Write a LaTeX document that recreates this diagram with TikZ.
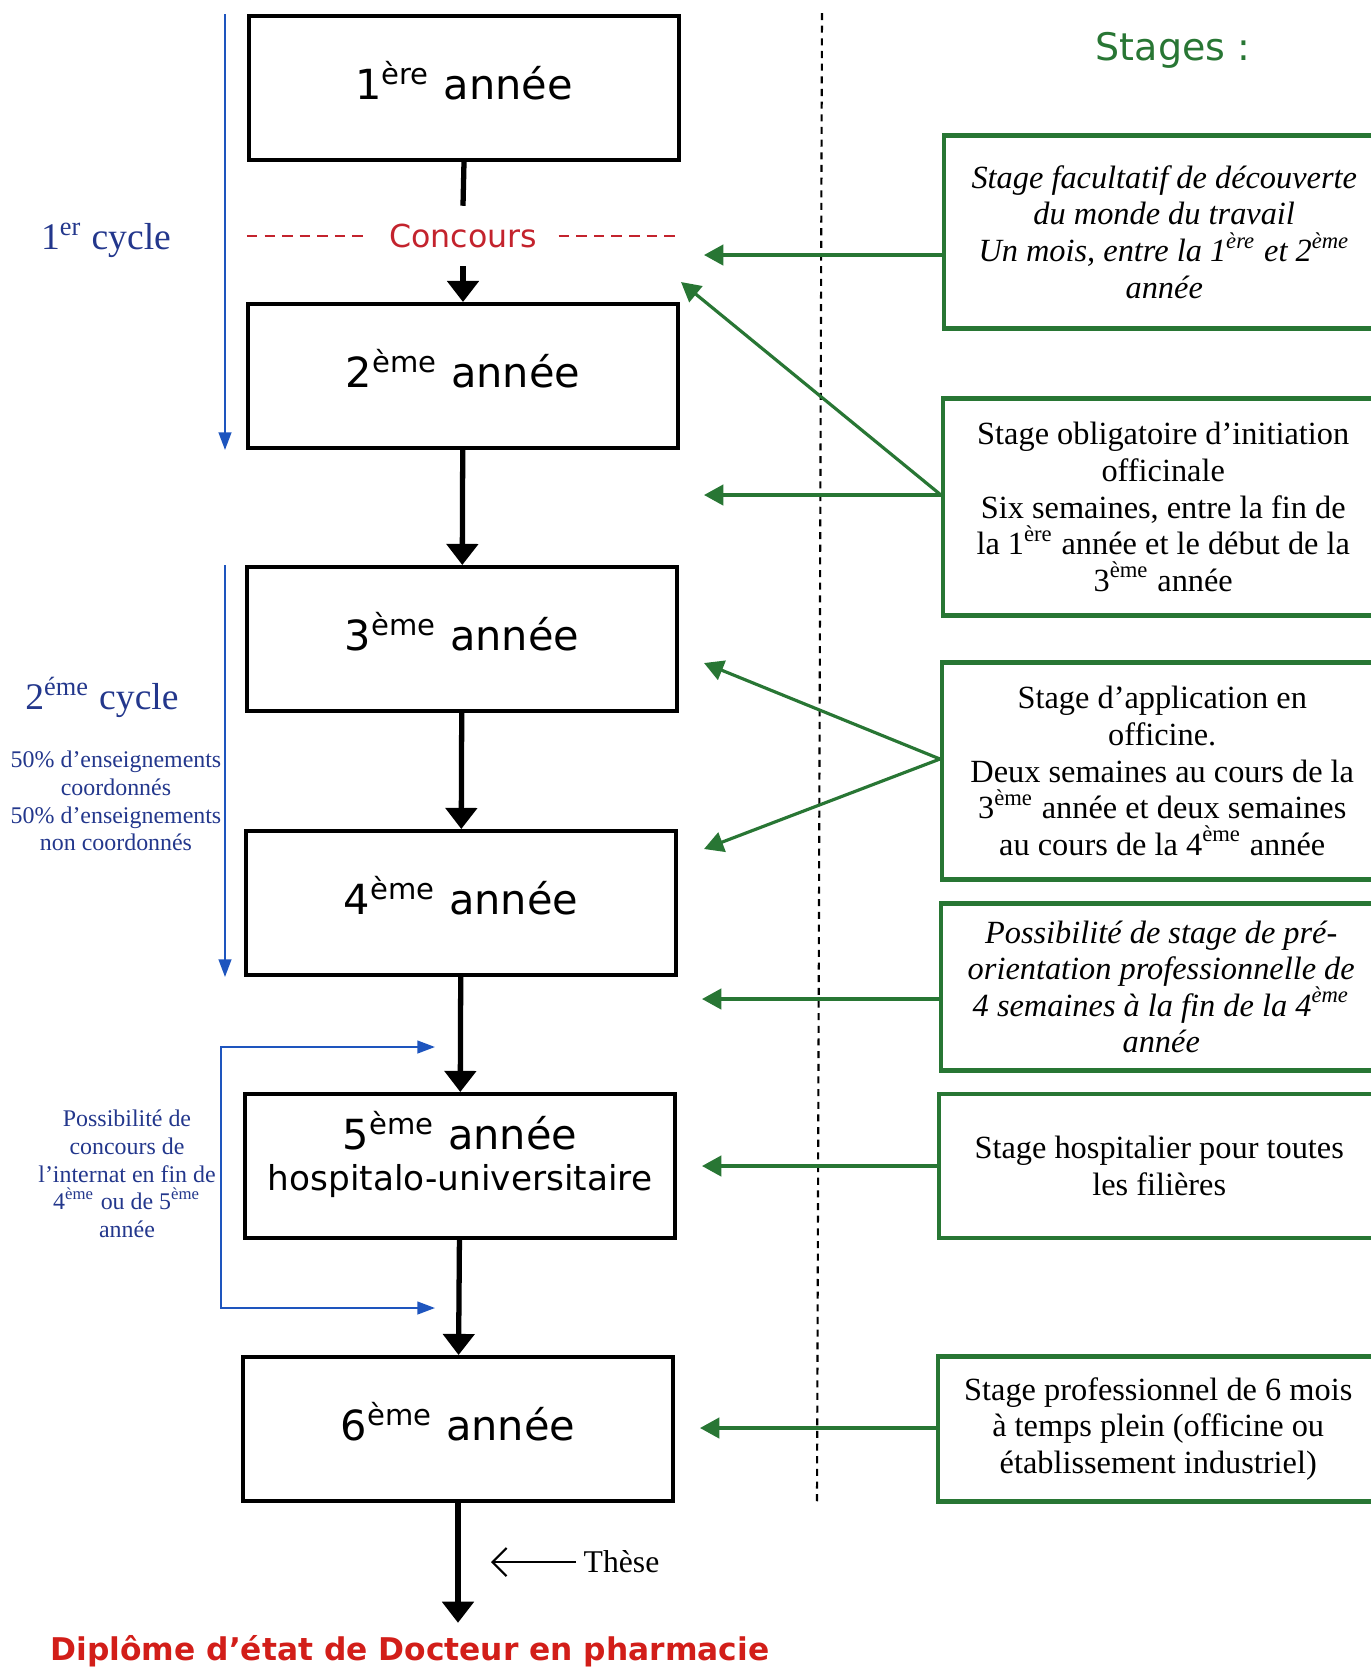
\documentclass[tikz,border=0pt]{standalone}
\usepackage{fontspec}
\setmainfont{Liberation Serif}
\newfontfamily\verdana{DejaVu Sans}
\usetikzlibrary{arrows.meta}

\definecolor{stagegreen}{RGB}{40,118,52}
\definecolor{cycleblue}{RGB}{35,55,140}
\definecolor{linkblue}{RGB}{30,85,190}
\definecolor{concred}{RGB}{195,35,45}
\definecolor{diplred}{RGB}{210,30,25}

\begin{document}
\begin{tikzpicture}[x=0.01cm, y=-0.01cm,
	yearbox/.style={draw, line width=1.1pt, minimum width=4.3cm, minimum height=1.44cm, inner sep=0pt, text depth=0.15cm, font=\verdana\fontsize{11.8}{12.8}\selectfont},
	stagebox/.style={draw=stagegreen, line width=1.2pt, anchor=west, minimum width=4.4cm, inner sep=2pt, align=center, font=\fontsize{9.2}{10.4}\selectfont},
	stageital/.style={stagebox, font=\itshape\fontsize{9.2}{10.4}\selectfont},
	flowarrow/.style={line width=1.5pt, -{Triangle[width=8.8pt,length=6pt]}},
	stagearrow/.style={stagegreen, line width=0.9pt, -{Triangle[width=5.8pt,length=5.5pt]}},
	spanarrow/.style={linkblue, line width=0.6pt, -{Triangle[width=3.6pt,length=5pt]}},
	sidenote/.style={cycleblue, align=center, font=\fontsize{6.8}{7.9}\selectfont}]
	\useasboundingbox (0,0) rectangle (1371,1668);
	\clip (0,0) rectangle (1371,1668);

	% nodes
	\node[yearbox] (y1) at (464,88) {1\textsuperscript{ère} année};
	\node[text=concred, font=\verdana\fontsize{9}{11}\selectfont, inner xsep=6pt, inner ysep=5pt] (conc) at (463,236) {Concours};
	\node[yearbox] (y2) at (463,376) {2\textsuperscript{ème} année};
	\node[yearbox] (y3) at (462,639) {3\textsuperscript{ème} année};
	\node[yearbox] (y4) at (461,903) {4\textsuperscript{ème} année};
	\node[yearbox, align=center, text depth=0.3cm] (y5) at (460,1166) {5\textsuperscript{ème} année\\[-1.2pt]{\fontsize{9.75}{12}\selectfont hospitalo-universitaire}};
	\node[yearbox] (y6) at (458,1429) {6\textsuperscript{ème} année};
	\node[text=diplred, font=\verdana\bfseries\fontsize{8.9}{11}\selectfont] (dipl) at (410,1651) {Diplôme d’état de Docteur en pharmacie};
	\node[anchor=west, inner sep=2pt, font=\fontsize{9}{11}\selectfont] (these) at (576,1562) {Thèse};

	\node[cycleblue, font=\fontsize{10.7}{13}\selectfont] (cyc1) at (106,240) {1\textsuperscript{er} cycle};
	\node[cycleblue, font=\fontsize{10.7}{13}\selectfont] (cyc2) at (102,697) {2\textsuperscript{éme} cycle};
	\node[sidenote] (ens) at (116,801) {50\% d’enseignements\\coordonnés\\50\% d’enseignements\\non coordonnés};
	\node[sidenote] (internat) at (127,1174) {Possibilité de\\concours de\\l’internat en fin de\\4\textsuperscript{ème} ou de 5\textsuperscript{ème}\\année};

	\node[text=stagegreen, font=\verdana\fontsize{10.8}{13}\selectfont] (stages) at (1173,50) {Stages :};
	\node[stageital, minimum height=1.93cm] (s1) at (942,232) {Stage facultatif de découverte\\du monde du travail\\Un mois, entre la 1\textsuperscript{ère} et 2\textsuperscript{ème}\\année};
	\node[stagebox, minimum height=2.17cm] (s2) at (941,507) {Stage obligatoire d’initiation\\officinale\\Six semaines, entre la fin de\\la 1\textsuperscript{ère} année et le début de la\\3\textsuperscript{ème} année};
	\node[stagebox, minimum height=2.17cm] (s3) at (940,771) {Stage d’application en\\officine.\\Deux semaines au cours de la\\3\textsuperscript{ème} année et deux semaines\\au cours de la 4\textsuperscript{ème} année};
	\node[stageital, minimum height=1.67cm] (s4) at (939,987) {Possibilité de stage de pré-\\orientation professionnelle de\\4 semaines à la fin de la 4\textsuperscript{ème}\\année};
	\node[stagebox, minimum height=1.44cm] (s5) at (937,1166) {Stage hospitalier pour toutes\\les filières};
	\node[stagebox, minimum height=1.45cm] (s6) at (936,1429) {Stage professionnel de 6 mois\\à temps plein (officine ou\\établissement industriel)};

	\coordinate (t1) at (704,255);
	\coordinate (t2) at (704,495);
	\coordinate (t2b) at (681,282);
	\coordinate (t3a) at (704,663);
	\coordinate (t3b) at (704,849);
	\coordinate (t4) at (702,999);
	\coordinate (t5) at (702,1166);
	\coordinate (t6) at (700,1428);
	\coordinate (thesetip) at (491,1562);
	\coordinate (cycx) at (225,0);
	\coordinate (int4) at (435,1047);
	\coordinate (int5) at (435,1308);
	\coordinate (intleft) at (221,1178);

	% divider and concours dashes
	\draw[line width=0.6pt, dash pattern=on 2pt off 1.6pt] (822,13) -- (817,1502);
	\draw[concred, line width=0.8pt, dash pattern=on 3pt off 2pt] (y1.west |- conc) -- (conc.west);
	\draw[concred, line width=0.8pt, dash pattern=on 3pt off 2pt] (conc.east) -- (y1.east |- conc);

	% arrows
	\draw[line width=1.5pt] (y1.south) -- (conc.north);
	\draw[flowarrow] (conc.south) -- (y2.north);
	\draw[flowarrow] (y2) -- (y3);
	\draw[flowarrow] (y3) -- (y4);
	\draw[flowarrow] (y4) -- (y5);
	\draw[flowarrow] (y5) -- (y6);
	\draw[flowarrow] (y6.south) -- (y6.south |- dipl.north);
	\draw[line width=0.6pt, -{Straight Barb[length=4pt,width=8pt]}] (these) -- (thesetip);

	\draw[stagearrow] (s1.west |- t1) -- (t1);
	\draw[stagearrow] (s2.west |- t2) -- (t2);
	\draw[stagearrow] (s2.west |- t2) -- (t2b);
	\draw[stagearrow] ([yshift=0.12cm]s3.west) -- (t3a);
	\draw[stagearrow] ([yshift=0.12cm]s3.west) -- (t3b);
	\draw[stagearrow] (s4.west |- t4) -- (t4);
	\draw[stagearrow] (s5.west |- t5) -- (t5);
	\draw[stagearrow] (s6.west |- t6) -- (t6);

	\draw[spanarrow] (y1.north -| cycx) -- (y2.south -| cycx);
	\draw[spanarrow] (y3.north -| cycx) -- (y4.south -| cycx);
	\draw[spanarrow, {Triangle[width=3.6pt,length=5pt]}-{Triangle[width=3.6pt,length=5pt]}] (int4) -| (intleft) |- (int5);
\end{tikzpicture}
\end{document}
